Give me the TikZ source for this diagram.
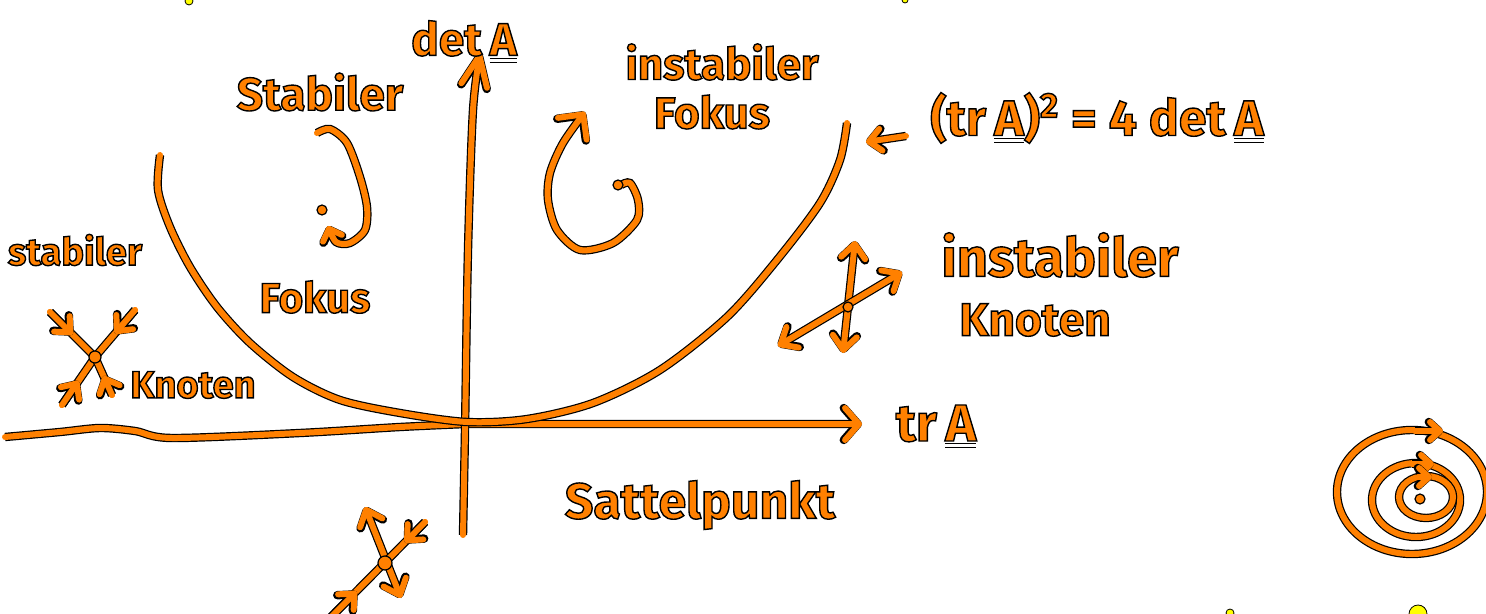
\documentclass[tikz,border=0pt]{standalone}
\usepackage{fontspec}
\setmainfont{Fira Sans}
\usetikzlibrary{arrows.meta, calc}
\definecolor{inkc}{HTML}{FF8000}
\definecolor{hlc}{HTML}{FFFF00}
\newcommand{\mtx}[1]{\ensuremath{\underline{\underline{\mbox{#1}}}}}
\newcommand{\hw}[1]{\special{pdf:literal direct 2 Tr 0 0 0 RG 0.7 w}#1\special{pdf:literal direct 0 Tr}}

\begin{document}
\begin{tikzpicture}[x=0.5pt, y=-0.5pt,
    ink/.style={draw=inkc, line width=3pt, line cap=round, line join=round,
                preaction={draw=black, line width=4.2pt}},
    blob/.style={fill=inkc, draw=black, line width=0.6pt},
    lbl/.style={text=inkc, inner sep=0pt,
                font=\bfseries\fontsize{#1}{#1}\selectfont},
    lbl/.default=25,
    axtip/.style={-{Straight Barb[round, length=7pt, width=16pt]}},
    vatip/.style={-{Straight Barb[round, length=15pt, width=13pt]}},
    ftip/.style={-{Straight Barb[round, length=#1, width=2*#1]}},
    ntip/.style={-{Straight Barb[round, length=6pt, width=11pt]}},
    ntwo/.style={{Straight Barb[round, length=7pt, width=12pt]}-{Straight Barb[round, length=7pt, width=12pt]}},
    ctip/.style={-{Straight Barb[round, length=5pt, width=9pt]}}]
  \useasboundingbox (0,0) rectangle (1486,614);
  \fill[white] (0,0) rectangle (1486,614);

  % axes and parabola
  \coordinate (o) at (466,424);
  \coordinate (xe) at (862,424);
  \coordinate (ye) at (480,53);
  \draw[ink, axtip] plot[smooth] coordinates {(5,437) (60,432) (100,428)
      (135,431) (172,438) (300,433) (400,427) (o)} -- (847,424) -- (xe);
  \draw[ink, vatip] plot[smooth] coordinates {(463,535) (465,430) (468,250)
      (473,110) (ye)};
  \draw[ink] plot[smooth] coordinates {(160,155) (158,190) (170,227)
      (190,267) (217,307) (250,343) (293,377) (340,400) (400,413) (467,422)
      (527,419) (593,403) (660,370) (727,317) (777,260) (820,203) (840,160)
      (847,123)};

  \node[lbl=23] (det) at (464,42) {\hw{det\,\mtx{A}}};
  \node[lbl=26] (tr) at (936,427) {\hw{tr\,\mtx{A}}};
  \node[lbl=25] (eq) at (1097,118)
       {\hw{(tr\,\mtx{A})\textsuperscript{2} = 4 det\,\mtx{A}}};
  \coordinate (pr) at (866,142);
  \draw[ink, -{Straight Barb[round, length=6pt, width=11pt]}]
       ([xshift=-12pt, yshift=-9pt]eq.west) -- (pr);

  % stable focus
  \node[lbl=23] (sf1) at (320,92) {\hw{Stabiler}};
  \node[lbl=21] (sf2) at (315,297) {\hw{Fokus}};
  \draw[ink, ftip=5pt] plot[smooth] coordinates {(317,133) (330,129)
      (347,143) (360,177) (367,207) (365,230) (350,243) (336,242) (328,226)};
  \filldraw[blob] (322,210) circle [radius=5];

  % unstable focus
  \node[lbl=22] (uf1) at (722,62) {\hw{instabiler}};
  \node[lbl=22] (uf2) at (712,112) {\hw{Fokus}};
  \draw[ink, ftip=9pt] plot[smooth] coordinates {(621,185) (630,183)
      (638,200) (637,220) (613,243) (580,250) (557,230) (548,200) (550,173)
      (563,143) (585,112)};
  \filldraw[blob] (618,185) circle [radius=5];

  % stable node
  \node[lbl=19] (sn1) at (75,250) {\hw{stabiler}};
  \node[lbl=19] (sn2) at (193,385) {\hw{Knoten}};
  \coordinate (sn) at (95,357);
  \foreach \n/\x/\y in {a/50/312, b/135/310, c/62/405, d/112/395}{
    \coordinate (sn\n) at (\x,\y);
    \draw[ink] (sn\n) -- (sn);
  }
  \foreach \n in {a,b,c,d}
    \draw[ink, ntip] (sn\n) -- ($(sn\n)!0.5!(sn)$);
  \filldraw[blob] (sn) circle [radius=6];

  % unstable node
  \node[lbl=27] (un1) at (1060,255) {\hw{instabiler}};
  \node[lbl=23] (un2) at (1035,320) {\hw{Knoten}};
  \coordinate (un) at (848,307);
  \coordinate (unt) at (855,241);
  \coordinate (unb) at (843,353);
  \coordinate (unl) at (778,346);
  \coordinate (unr) at (902,272);
  \draw[ink, ntwo] (unt) -- (unb);
  \draw[ink, ntwo] (unl) -- (unr);
  \filldraw[blob] (un) circle [radius=5];

  % saddle
  \node[lbl=25] (sp1) at (700,505) {\hw{Sattelpunkt}};
  \coordinate (sp) at (385,563);
  \coordinate (spt) at (365,507);
  \coordinate (spb) at (401,598);
  \coordinate (spl) at (328,620);
  \coordinate (spr) at (425,522);
  \draw[ink, ntwo] (spt) -- (spb);
  \draw[ink] (spl) -- (spr);
  \foreach \n in {spl, spr}
    \draw[ink, ntip] (\n) -- ($(\n)!0.5!(sp)$);
  \filldraw[blob] (sp) circle [radius=7];

  % centre
  \coordinate (ct) at (1420,499);
  \draw[ink] (1412,492) ellipse [x radius=75, y radius=62];
  \draw[ink] (1416,500) ellipse [x radius=44, y radius=37];
  \draw[ink] (1426,497) ellipse [x radius=27, y radius=21];
  \foreach \a/\b/\y in {1415/1443/431, 1412/1434/464, 1418/1432/477}
    \draw[ink, ctip] (\a,\y) -- (\b,\y);
  \filldraw[blob] (ct) circle [radius=5];

  % marker spots at the border
  \foreach \x/\y/\r in {189/1/4, 905/0/3, 1230/613/4, 1418/614/9}
    \filldraw[fill=hlc, draw=black, line width=0.4pt] (\x,\y) circle [radius=\r];
\end{tikzpicture}
\end{document}
